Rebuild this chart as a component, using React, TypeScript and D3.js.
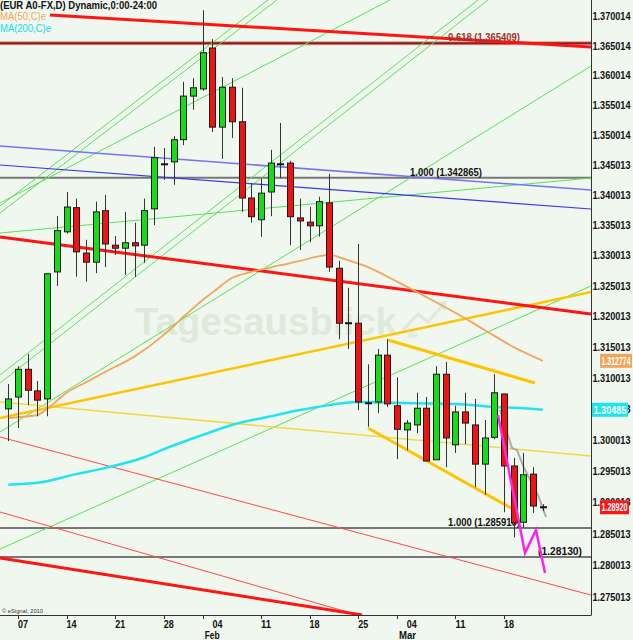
import React from 'react';
import * as d3 from 'd3';

// daily EUR/USD candles, index 0 = Fri 4 Jan, one slot per trading day
const opens = [1.3050, 1.3069, 1.3114, 1.3079, 1.3066, 1.3273, 1.3339, 1.3379, 1.3304, 1.3289, 1.3374, 1.3317, 1.3312, 1.3321, 1.3317, 1.3377, 1.3451, 1.3455, 1.3492, 1.3565, 1.3577, 1.3646, 1.3513, 1.3580, 1.3522, 1.3395, 1.3359, 1.3405, 1.3451, 1.3453, 1.3362, 1.3355, 1.3349, 1.3387, 1.3279, 1.3189, 1.3189, 1.3059, 1.3061, 1.3137, 1.3055, 1.3016, 1.3024, 1.3051, 1.2968, 1.3106, 1.2992, 1.3045, 1.3024, 1.2961, 1.3004, 1.3074, 1.2958, 1.2868, 1.2945, 1.2892];
const highs = [1.3090, 1.3119, 1.3139, 1.3095, 1.3271, 1.3365, 1.3405, 1.3394, 1.3326, 1.3389, 1.3400, 1.3332, 1.3372, 1.3354, 1.3394, 1.3480, 1.3478, 1.3498, 1.3589, 1.3595, 1.3710, 1.3661, 1.3597, 1.3595, 1.3579, 1.3420, 1.3428, 1.3475, 1.3520, 1.3457, 1.3394, 1.3380, 1.3397, 1.3435, 1.3291, 1.3247, 1.3319, 1.3122, 1.3147, 1.3163, 1.3101, 1.3032, 1.3076, 1.3069, 1.3119, 1.3126, 1.3055, 1.3076, 1.3066, 1.3032, 1.3106, 1.3074, 1.2971, 1.2979, 1.2956, 1.2897];
const lows = [1.2998, 1.3019, 1.3056, 1.3038, 1.3038, 1.3250, 1.3336, 1.3265, 1.3257, 1.3271, 1.3281, 1.3301, 1.3268, 1.3265, 1.3288, 1.3350, 1.3425, 1.3417, 1.3483, 1.3542, 1.3574, 1.3505, 1.3460, 1.3495, 1.3372, 1.3354, 1.3331, 1.3365, 1.3428, 1.3317, 1.3309, 1.3322, 1.3331, 1.3273, 1.3163, 1.3147, 1.3048, 1.3021, 1.3043, 1.3053, 1.2969, 1.2983, 1.3011, 1.2966, 1.2968, 1.2956, 1.2979, 1.2993, 1.2924, 1.2912, 1.3001, 1.2884, 1.2844, 1.2859, 1.2883, 1.2886];
const closes = [1.3066, 1.3114, 1.3080, 1.3064, 1.3270, 1.3341, 1.3380, 1.3306, 1.3289, 1.3372, 1.3319, 1.3312, 1.3321, 1.3316, 1.3374, 1.3462, 1.3451, 1.3492, 1.3565, 1.3579, 1.3638, 1.3513, 1.3580, 1.3522, 1.3395, 1.3364, 1.3403, 1.3453, 1.3451, 1.3364, 1.3357, 1.3349, 1.3389, 1.3281, 1.3189, 1.3189, 1.3061, 1.3059, 1.3137, 1.3058, 1.3017, 1.3027, 1.3051, 1.2966, 1.3106, 1.3003, 1.3045, 1.3027, 1.2961, 1.3003, 1.3076, 1.2958, 1.2867, 1.2944, 1.2894, 1.2892];

// moving averages at a few bars
const ma50Idx = [0, 2, 3, 4, 6, 8, 10, 13, 16, 18, 20, 21, 23, 25, 28, 30, 32, 33, 35, 37, 40, 43, 46, 49, 52, 55];
const ma50Val = [1.3035, 1.3038, 1.3040, 1.3050, 1.3076, 1.3093, 1.3110, 1.3135, 1.3170, 1.3199, 1.3227, 1.3239, 1.3263, 1.3273, 1.3284, 1.3291, 1.3299, 1.3301, 1.3292, 1.3281, 1.3257, 1.3232, 1.3206, 1.3178, 1.3150, 1.312774];
const ma200Idx = [0, 3, 7, 10, 14, 16, 20, 23, 27, 30, 33, 36, 42, 46, 50, 53, 55];
const ma200Val = [1.2928, 1.2931, 1.2945, 1.2955, 1.2972, 1.2985, 1.3008, 1.3024, 1.3038, 1.3048, 1.3056, 1.3061, 1.3059, 1.3058, 1.3053, 1.3051, 1.30485];

// trendlines: [idx1, price1, idx2, price2]
const greenLines = [
  [-0.85, 1.33817, 26.72, 1.37273],
  [-0.85, 1.33701, 27.64, 1.37273],
  [-0.85, 1.33867, 39.27, 1.37273],
  [-0.85, 1.31048, 48.32, 1.37273],
  [-0.85, 1.30918, 49.35, 1.37273],
  [-0.85, 1.30126, 59.95, 1.36156],
  [-0.85, 1.33371, 59.95, 1.34282],
  [-0.85, 1.28255, 59.95, 1.32499],
];
const blueLines = [
  [-0.85, 1.34815, 59.95, 1.34083],
  [-0.85, 1.34498, 59.95, 1.33768],
];
const redThick = [
  [4.29, 1.37018, 59.95, 1.36477],
  [-0.85, 1.33305, 59.95, 1.32041],
  [-0.85, 1.28113, 36.4, 1.27212],
];
const redThin = [
  [-0.85, 1.30046, 59.95, 1.27527],
  [-0.85, 1.28844, 35.98, 1.27212],
];
const goldRising = [-0.85, 1.30352, 59.95, 1.32401];
const yellowThin = [-0.85, 1.30611, 59.95, 1.29740];
const channel = [
  [39.06, 1.31616, 54.19, 1.30918],
  [37.0, 1.30191, 51.9, 1.28892],
];

// projection paths
const grayIdx = [50.59, 51.82, 52.34, 53.06, 54.5, 55.32];
const grayVal = [1.30481, 1.29869, 1.29837, 1.29548, 1.29115, 1.28765];
const pinkIdx = [50.38, 53.16, 54.29, 55.22];
const pinkVal = [1.30401, 1.28192, 1.28558, 1.27875];

// fibonacci levels
const fibPrices = [1.365409, 1.342865, 1.28591, 1.2813];
const fibLabels = ['0.618 (1.365409)', '1.000 (1.342865)', '1.000 (1.285910)', '(1.28130)'];
const fibLabelIdx = [45.24, 41.33, 45.24, 54.5];

// axis labels
const yTicks = ['1.370014', '1.365014', '1.360014', '1.355014', '1.350014', '1.345013', '1.340013', '1.335013', '1.330013', '1.325013', '1.320013', '1.315013', '1.310013', '1.305013', '1.300013', '1.295013', '1.290013', '1.285013', '1.280013', '1.275013'];
const xTickIdx = [1, 6, 11, 16, 20, 26, 31, 36, 40, 46, 51];
const xLabelIdx = [1, 6, 11, 16, 21, 26, 31, 36, 41, 46, 51];
const xLabels = ['07', '14', '21', '28', '04', '11', '18', '25', '04', '11', '18'];
const monthIdx = [20, 40];
const monthLabels = ['Feb', 'Mar'];

const lastValues = [1.312774, 1.30485, 1.2892];
const lastTexts = ['1.312774', '1.30485', '1.28920'];

const PLOT_R = 591;
const PLOT_B = 615;
const FONT = '"Liberation Sans", Arial, sans-serif';

const App: React.FC = () => {
  const x = d3.scaleLinear().domain([-0.854, 59.95]).range([0, PLOT_R]);
  const y = d3.scaleLog().domain([1.272123, 1.372729]).range([PLOT_B, 0]);

  const seg = (l: number[], stroke: string, w: number, key: string) => (
    <line key={key} x1={x(l[0])} y1={y(l[1])} x2={x(l[2])} y2={y(l[3])} stroke={stroke} strokeWidth={w} />
  );

  const line = d3.line<[number, number]>().x(d => x(d[0])).y(d => y(d[1]));
  const smooth = d3.line<[number, number]>().x(d => x(d[0])).y(d => y(d[1])).curve(d3.curveMonotoneX);
  const pairs = (a: number[], b: number[]) => a.map((v, i) => [v, b[i]] as [number, number]);

  const boxX = [600, 592, 600];
  const boxW = [32, 36, 29];
  const boxFill = ['#f2a65c', '#1ee4ee', '#ff1717'];

  return (
    <svg width={633} height={640} style={{ position: 'absolute', left: 0, top: 0, background: '#f0f7ef' }} fontFamily={FONT}>
      <defs>
        <clipPath id="plot"><rect x={0} y={0} width={PLOT_R} height={PLOT_B} /></clipPath>
      </defs>
      <rect width={633} height={640} fill="#f0f7ef" />

      {/* watermark */}
      <g fill="#dfe9da">
        <text x={135} y={335} fontSize={38} fontWeight="bold" textLength={262} lengthAdjust="spacingAndGlyphs">Tagesausblick</text>
        <text x={405} y={338} fontSize={9} fontWeight="bold">.de</text>
        <path d="M403,330 L418,314 L428,322 L443,305" fill="none" stroke="#dfe9da" strokeWidth={3} />
        <path d="M437,303 L447,301 L445,311 Z" />
      </g>

      <g clipPath="url(#plot)">
        {/* fib levels */}
        <line x1={0} x2={PLOT_R} y1={y(fibPrices[0])} y2={y(fibPrices[0])} stroke="#d59a9a" strokeWidth={4} />
        <line x1={0} x2={PLOT_R} y1={y(fibPrices[0])} y2={y(fibPrices[0])} stroke="#8e1a12" strokeWidth={2} />
        {fibPrices.slice(1).map((p, i) => (
          <line key={'f' + i} x1={0} x2={PLOT_R} y1={y(p)} y2={y(p)} stroke="#777" strokeWidth={2} />
        ))}

        {greenLines.map((l, i) => seg(l, '#55e455', 1, 'g' + i))}
        {seg(blueLines[0], '#7474f4', 1.6, 'b0')}
        {seg(blueLines[1], '#3838ee', 1.2, 'b1')}
        {redThin.map((l, i) => seg(l, '#ff4a4a', 1, 'rt' + i))}
        {seg(yellowThin, '#f2d84a', 1.5, 'yt')}
        {seg(goldRising, '#ffc400', 2.5, 'gr')}
        {redThick.map((l, i) => seg(l, '#ff1414', 3, 'rk' + i))}
        {channel.map((l, i) => seg(l, '#ffc400', 3, 'ch' + i))}

        <path d={smooth(pairs(ma200Idx, ma200Val)) || ''} fill="none" stroke="#22e4f0" strokeWidth={2.5} />
        <path d={smooth(pairs(ma50Idx, ma50Val)) || ''} fill="none" stroke="#f2a65c" strokeWidth={1.8} />

        {fibLabels.map((t, i) => (
          <text key={'fl' + i} x={x(fibLabelIdx[i])} y={y(fibPrices[i]) - 2} fontSize={11} fontWeight="bold"
            fill={i === 0 ? '#a0322a' : '#111'} textLength={i === 3 ? 44 : 72} lengthAdjust="spacingAndGlyphs">{t}</text>
        ))}

        <path d={line(pairs(grayIdx, grayVal)) || ''} fill="none" stroke="#ababab" strokeWidth={2} />

        {/* candles */}
        {opens.map((o, i) => {
          const c = closes[i];
          const cx = Math.round(x(i));
          const doji = Math.abs(o - c) < 0.0002;
          const top = y(Math.max(o, c));
          const bot = y(Math.min(o, c));
          return (
            <g key={'c' + i}>
              <line x1={cx + 0.5} x2={cx + 0.5} y1={y(highs[i])} y2={y(lows[i])} stroke="#333" strokeWidth={1} />
              {doji ? (
                <line x1={cx - 3} x2={cx + 4} y1={top} y2={top} stroke="#111" strokeWidth={2} />
              ) : (
                <rect x={cx - 2.5} y={top} width={6} height={Math.max(1, bot - top)}
                  fill={c > o ? '#19dc19' : '#ee1414'} stroke="#1a1a1a" strokeWidth={1} />
              )}
            </g>
          );
        })}

        <path d={line(pairs(pinkIdx, pinkVal)) || ''} fill="none" stroke="#ff22ee" strokeWidth={2.5} />
      </g>

      {/* axes */}
      <line x1={PLOT_R + 0.5} x2={PLOT_R + 0.5} y1={0} y2={PLOT_B} stroke="#333" />
      <line x1={0} x2={PLOT_R + 0.5} y1={PLOT_B + 0.5} y2={PLOT_B + 0.5} stroke="#333" />
      {xTickIdx.map((i, k) => (
        <line key={'xt' + k} x1={Math.round(x(i)) + 0.5} x2={Math.round(x(i)) + 0.5} y1={PLOT_B} y2={PLOT_B + 4} stroke="#333" />
      ))}
      {xLabels.map((t, k) => (
        <text key={'xl' + k} x={x(xLabelIdx[k])} y={628} fontSize={11} fontWeight="bold" fill="#111"
          textLength={10} lengthAdjust="spacingAndGlyphs">{t}</text>
      ))}
      {monthLabels.map((t, k) => (
        <text key={'ml' + k} x={x(monthIdx[k]) + 2} y={639} fontSize={11} fontWeight="bold" fill="#111"
          textLength={t === 'Mar' ? 17 : 15} lengthAdjust="spacingAndGlyphs">{t}</text>
      ))}
      {yTicks.map((t, k) => (
        <text key={'yl' + k} x={592.5} y={y(+t) + 4} fontSize={11} fontWeight="bold" fill="#111"
          textLength={38} lengthAdjust="spacingAndGlyphs">{t}</text>
      ))}

      {lastValues.map((v, k) => (
        <g key={'lv' + k}>
          <rect x={boxX[k]} y={y(v) - 7} width={boxW[k]} height={14} fill={boxFill[k]} />
          <text x={boxX[k] + 1.5} y={y(v) + 4} fontSize={11} fontWeight="bold" fill="#fff"
            textLength={boxW[k] - 3} lengthAdjust="spacingAndGlyphs">{lastTexts[k]}</text>
        </g>
      ))}

      {/* header */}
      <text x={0} y={9} fontSize={10.5} fontWeight="bold" fill="#111" textLength={157} lengthAdjust="spacingAndGlyphs">(EUR A0-FX,D) Dynamic,0:00-24:00</text>
      <text x={0} y={20} fontSize={10.5} fill="#f2a65c" textLength={46} lengthAdjust="spacingAndGlyphs">MA(50,C)e</text>
      <text x={0} y={32} fontSize={10.5} fill="#12dcea" textLength={51} lengthAdjust="spacingAndGlyphs">MA(200,C)e</text>
      <text x={2} y={613} fontSize={6} fill="#333" textLength={41} lengthAdjust="spacingAndGlyphs">© eSignal, 2010</text>
    </svg>
  );
};

export default App;
